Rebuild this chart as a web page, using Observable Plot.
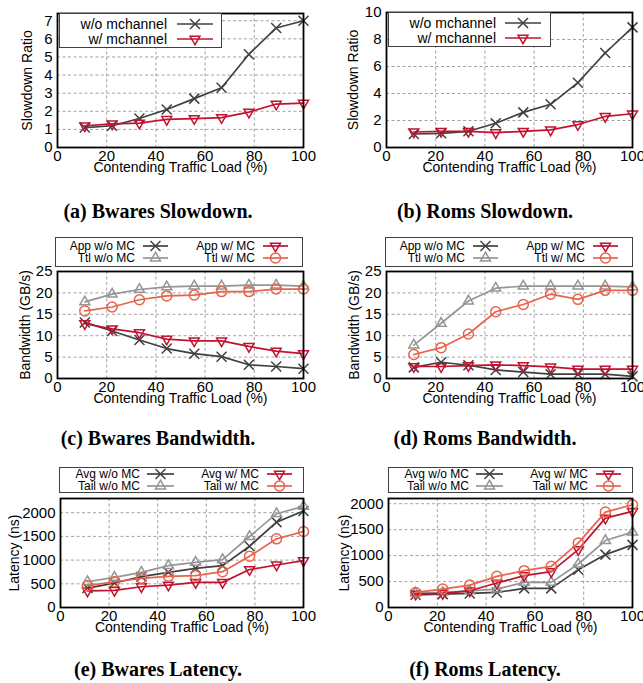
<!DOCTYPE html>
<html><head><meta charset="utf-8">
<script src="https://cdn.jsdelivr.net/npm/d3@7"></script>
<script src="https://cdn.jsdelivr.net/npm/@observablehq/plot@0.6"></script>
<style>
html,body{margin:0;padding:0;background:#fff;}
#root{position:relative;width:643px;height:683px;overflow:hidden;background:#fff;font-family:"Liberation Sans",Arial,Helvetica,sans-serif;}
.cap{position:absolute;font-family:"Liberation Serif","Times New Roman",serif;font-weight:bold;font-size:20px;line-height:20px;text-align:center;white-space:nowrap;}
.lgbox{position:absolute;border:1.3px solid #404040;background:#fff;box-sizing:border-box;}
.lgtxt{position:absolute;text-align:right;white-space:nowrap;color:#000;}
</style>
</head><body><div id="root"></div>
<script>
// ---------- data ----------
const load = [11.1, 22.2, 33.3, 44.4, 55.6, 66.7, 77.8, 88.9, 100];
const xTicks = [0, 20, 40, 60, 80, 100];
const xTitle = "Contending Traffic Load (%)";

// (a) Bwares slowdown
const bwSlowWo = [1.1, 1.2, 1.6, 2.1, 2.7, 3.3, 5.15, 6.6, 7.0];
const bwSlowW  = [1.2, 1.3, 1.35, 1.55, 1.6, 1.65, 1.95, 2.4, 2.45];
// (b) Roms slowdown
const romsSlowWo = [1.0, 1.05, 1.2, 1.8, 2.6, 3.2, 4.8, 7.0, 8.9];
const romsSlowW  = [1.15, 1.2, 1.2, 1.1, 1.2, 1.3, 1.7, 2.3, 2.5];
// (c) Bwares bandwidth
const bwAppWo = [13.1, 11.1, 9.0, 7.0, 5.8, 5.1, 3.2, 2.8, 2.3];
const bwTtlWo = [17.9, 19.7, 20.8, 21.4, 21.6, 21.6, 21.8, 21.8, 21.6];
const bwAppW  = [12.8, 11.6, 10.7, 9.2, 8.8, 8.8, 7.5, 6.4, 5.8];
const bwTtlW  = [15.8, 16.7, 18.4, 19.3, 19.5, 20.3, 20.3, 20.9, 20.9];
// (d) Roms bandwidth
const romsAppWo = [2.6, 3.8, 3.1, 2.0, 1.5, 1.0, 1.0, 1.0, 0.5];
const romsTtlWo = [7.8, 12.9, 18.1, 21.1, 21.6, 21.6, 21.6, 21.6, 21.4];
const romsAppW  = [2.8, 2.8, 3.0, 3.2, 3.0, 2.7, 2.2, 2.2, 2.2];
const romsTtlW  = [5.6, 7.2, 10.4, 15.6, 17.3, 19.7, 18.5, 20.6, 20.6];
// (e) Bwares latency
const bwAvgWo  = [410, 516, 650, 742, 827, 883, 1293, 1802, 2035];
const bwTailWo = [544, 636, 742, 883, 954, 1010, 1498, 1979, 2134];
const bwAvgW   = [350, 360, 438, 473, 530, 530, 800, 897, 989];
const bwTailW  = [460, 544, 615, 657, 671, 756, 1081, 1449, 1604];
// (f) Roms latency
const romsAvgWo  = [245, 258, 271, 290, 368, 368, 729, 1019, 1206];
const romsTailWo = [277, 290, 322, 355, 484, 484, 838, 1290, 1451];
const romsAvgW   = [258, 271, 322, 471, 613, 690, 1116, 1722, 1851];
const romsTailW  = [290, 355, 432, 600, 710, 793, 1245, 1838, 1980];

// ---------- styles ----------
const FONT = '"Liberation Sans", Arial, Helvetica, sans-serif';
const symTimes = {draw(c, size){const r=Math.sqrt(size/Math.PI); c.moveTo(-r,-r); c.lineTo(r,r); c.moveTo(r,-r); c.lineTo(-r,r);}};
const symTriDown = {draw(c, size){const r=Math.sqrt(size/Math.PI)*1.15; c.moveTo(0,r); c.lineTo(-0.866*r,-0.5*r); c.lineTo(0.866*r,-0.5*r); c.closePath();}};
const symTriUp = {draw(c, size){const r=Math.sqrt(size/Math.PI)*1.15; c.moveTo(0,-r); c.lineTo(0.866*r,0.5*r); c.lineTo(-0.866*r,0.5*r); c.closePath();}};
const symCircle = {draw(c, size){const r=Math.sqrt(size/Math.PI); c.moveTo(r,0); c.arc(0,0,r,0,2*Math.PI); c.closePath();}};

const C_DARK = "#404040", C_RED = "#c1122f", C_GRAY = "#959595", C_ORANGE = "#e8634b";
const stWo = {color: C_DARK, sym: symTimes};
const stW = {color: C_RED, sym: symTriDown};
const stTtlWo = {color: C_GRAY, sym: symTriUp};
const stTtlW = {color: C_ORANGE, sym: symCircle};

const root = document.getElementById("root");

function panel(o) {
  const marks = [
    Plot.gridX(xTicks, {stroke: "#8a8a8a", strokeOpacity: 1, strokeDasharray: "3,2.5", strokeWidth: 0.8}),
    Plot.gridY(o.yTicks, {stroke: "#8a8a8a", strokeOpacity: 1, strokeDasharray: "3,2.5", strokeWidth: 0.8})
  ];
  for (const s of o.series) {
    const data = load.map((x, i) => ({x, y: s.values[i]}));
    marks.push(Plot.line(data, {x: "x", y: "y", stroke: s.st.color, strokeWidth: 1.7}));
    marks.push(Plot.dot(data, {x: "x", y: "y", symbol: s.st.sym, r: 5, stroke: s.st.color, fill: "none", strokeWidth: 1.5}));
  }
  marks.push(Plot.frame({stroke: "#000", strokeWidth: 1.8}));
  marks.push(Plot.axisX(xTicks, {tickSize: 0, tickPadding: 3, label: null, fontSize: 15, tickFormat: d => String(d)}));
  marks.push(Plot.axisY(o.yTicks, {tickSize: 0, tickPadding: 5, label: null, fontSize: 15, tickFormat: d => String(d)}));
  marks.push(Plot.text([xTitle], {text: d => d, frameAnchor: "bottom", textAnchor: "middle", lineAnchor: "top", dy: 15, fontSize: 14}));
  marks.push(Plot.text([o.yTitle], {text: d => d, frameAnchor: "left", textAnchor: "middle", lineAnchor: "top", rotate: -90, dx: -o.yOff, fontSize: 14}));
  const svg = Plot.plot({
    width: o.w, height: o.h,
    marginTop: o.mt, marginRight: o.mr, marginBottom: o.mb, marginLeft: o.ml,
    x: {domain: [0, 100]},
    y: {domain: o.yDomain},
    style: {fontFamily: FONT, background: "transparent", overflow: "visible", color: "#000"},
    marks
  });
  svg.style.position = "absolute";
  svg.style.left = o.left + "px";
  svg.style.top = o.top + "px";
  root.appendChild(svg);
}

function legend(box, entries, fontSize) {
  const b = document.createElement("div");
  b.className = "lgbox";
  Object.assign(b.style, {left: box.x + "px", top: box.y + "px", width: box.w + "px", height: box.h + "px"});
  root.appendChild(b);
  for (const e of entries) {
    const t = document.createElement("div");
    t.className = "lgtxt";
    t.textContent = e.label;
    Object.assign(t.style, {left: (e.tr - 200) + "px", width: "200px", top: (e.y - 8) + "px", lineHeight: "16px", fontSize: fontSize + "px"});
    root.appendChild(t);
    const w = e.x1 - e.x0;
    const ns = "http://www.w3.org/2000/svg";
    const s = document.createElementNS(ns, "svg");
    s.setAttribute("width", w + 12); s.setAttribute("height", 16);
    Object.assign(s.style, {position: "absolute", left: (e.x0 - 6) + "px", top: (e.y - 8) + "px", overflow: "visible"});
    const ln = document.createElementNS(ns, "line");
    ln.setAttribute("x1", 6); ln.setAttribute("x2", 6 + w); ln.setAttribute("y1", 8); ln.setAttribute("y2", 8);
    ln.setAttribute("stroke", e.st.color); ln.setAttribute("stroke-width", 1.7);
    s.appendChild(ln);
    const p = document.createElementNS(ns, "path");
    p.setAttribute("d", d3.symbol(e.st.sym, Math.PI * 25)());
    p.setAttribute("transform", `translate(${6 + w / 2},8)`);
    p.setAttribute("fill", "none"); p.setAttribute("stroke", e.st.color); p.setAttribute("stroke-width", 1.5);
    s.appendChild(p);
    root.appendChild(s);
  }
}

function caption(text, left, width, top) {
  const d = document.createElement("div");
  d.className = "cap";
  d.textContent = text;
  Object.assign(d.style, {left: left + "px", width: width + "px", top: top + "px"});
  root.appendChild(d);
}

// ---------- row 1 ----------
panel({left: 0, top: 0, w: 320, h: 180, mt: 13, mr: 17, mb: 33, ml: 57,
  yDomain: [0, 7.4], yTicks: [0, 1, 2, 3, 4, 5, 6, 7], yTitle: "Slowdown Ratio", yOff: 35,
  series: [{values: bwSlowWo, st: stWo}, {values: bwSlowW, st: stW}]});
panel({left: 320, top: 0, w: 323, h: 180, mt: 12, mr: 11, mb: 33, ml: 66,
  yDomain: [0, 10], yTicks: [0, 2, 4, 6, 8, 10], yTitle: "Slowdown Ratio", yOff: 38,
  series: [{values: romsSlowWo, st: stWo}, {values: romsSlowW, st: stW}]});
legend({x: 59, y: 13, w: 163, h: 35}, [
  {label: "w/o mchannel", tr: 167, y: 24, x0: 177, x1: 213, st: stWo},
  {label: "w/ mchannel", tr: 167, y: 39, x0: 177, x1: 213, st: stW}], 14);
legend({x: 388, y: 12, w: 163, h: 35}, [
  {label: "w/o mchannel", tr: 496, y: 23, x0: 505, x1: 541, st: stWo},
  {label: "w/ mchannel", tr: 496, y: 38, x0: 505, x1: 541, st: stW}], 14);
caption("(a) Bwares Slowdown.", 0, 316, 201);
caption("(b) Roms Slowdown.", 325, 320, 201);

// ---------- row 2 ----------
panel({left: 0, top: 250, w: 320, h: 160, mt: 21, mr: 17, mb: 32, ml: 57,
  yDomain: [0, 25], yTicks: [0, 5, 10, 15, 20, 25], yTitle: "Bandwidth (GB/s)", yOff: 37,
  series: [{values: bwAppWo, st: stWo}, {values: bwTtlWo, st: stTtlWo}, {values: bwAppW, st: stW}, {values: bwTtlW, st: stTtlW}]});
panel({left: 320, top: 250, w: 323, h: 160, mt: 21, mr: 11, mb: 32, ml: 66,
  yDomain: [0, 25], yTicks: [0, 5, 10, 15, 20, 25], yTitle: "Bandwidth (GB/s)", yOff: 37,
  series: [{values: romsAppWo, st: stWo}, {values: romsTtlWo, st: stTtlWo}, {values: romsAppW, st: stW}, {values: romsTtlW, st: stTtlW}]});
function bwLegend(x0) {
  legend({x: x0, y: 237, w: 248, h: 30}, [
    {label: "App w/o MC", tr: x0 + 80, y: 246, x0: x0 + 88, x1: x0 + 113, st: stWo},
    {label: "Ttl w/o MC", tr: x0 + 80, y: 258, x0: x0 + 88, x1: x0 + 113, st: stTtlWo},
    {label: "App w/ MC", tr: x0 + 200, y: 246, x0: x0 + 208, x1: x0 + 233, st: stW},
    {label: "Ttl w/ MC", tr: x0 + 200, y: 258, x0: x0 + 208, x1: x0 + 233, st: stTtlW}], 12);
}
bwLegend(55);
bwLegend(385);
caption("(c) Bwares Bandwidth.", 0, 316, 428);
caption("(d) Roms Bandwidth.", 325, 320, 428);

// ---------- row 3 ----------
panel({left: 0, top: 480, w: 320, h: 160, mt: 18, mr: 17, mb: 33, ml: 60,
  yDomain: [0, 2300], yTicks: [0, 500, 1000, 1500, 2000], yTitle: "Latency (ns)", yOff: 51,
  series: [{values: bwAvgWo, st: stWo}, {values: bwTailWo, st: stTtlWo}, {values: bwAvgW, st: stW}, {values: bwTailW, st: stTtlW}]});
panel({left: 320, top: 480, w: 323, h: 160, mt: 18, mr: 11, mb: 33, ml: 68,
  yDomain: [0, 2100], yTicks: [0, 500, 1000, 1500, 2000], yTitle: "Latency (ns)", yOff: 49,
  series: [{values: romsAvgWo, st: stWo}, {values: romsTailWo, st: stTtlWo}, {values: romsAvgW, st: stW}, {values: romsTailW, st: stTtlW}]});
function latLegend(x0) {
  legend({x: x0, y: 467, w: 245, h: 26}, [
    {label: "Avg w/o MC", tr: x0 + 81, y: 474, x0: x0 + 88, x1: x0 + 115, st: stWo},
    {label: "Tail w/o MC", tr: x0 + 81, y: 486, x0: x0 + 88, x1: x0 + 115, st: stTtlWo},
    {label: "Avg w/ MC", tr: x0 + 200, y: 474, x0: x0 + 208, x1: x0 + 233, st: stW},
    {label: "Tail w/ MC", tr: x0 + 200, y: 486, x0: x0 + 208, x1: x0 + 233, st: stTtlW}], 12);
}
latLegend(59);
latLegend(388);
caption("(e) Bwares Latency.", 0, 316, 659);
caption("(f) Roms Latency.", 325, 320, 659);
</script>
</body></html>
